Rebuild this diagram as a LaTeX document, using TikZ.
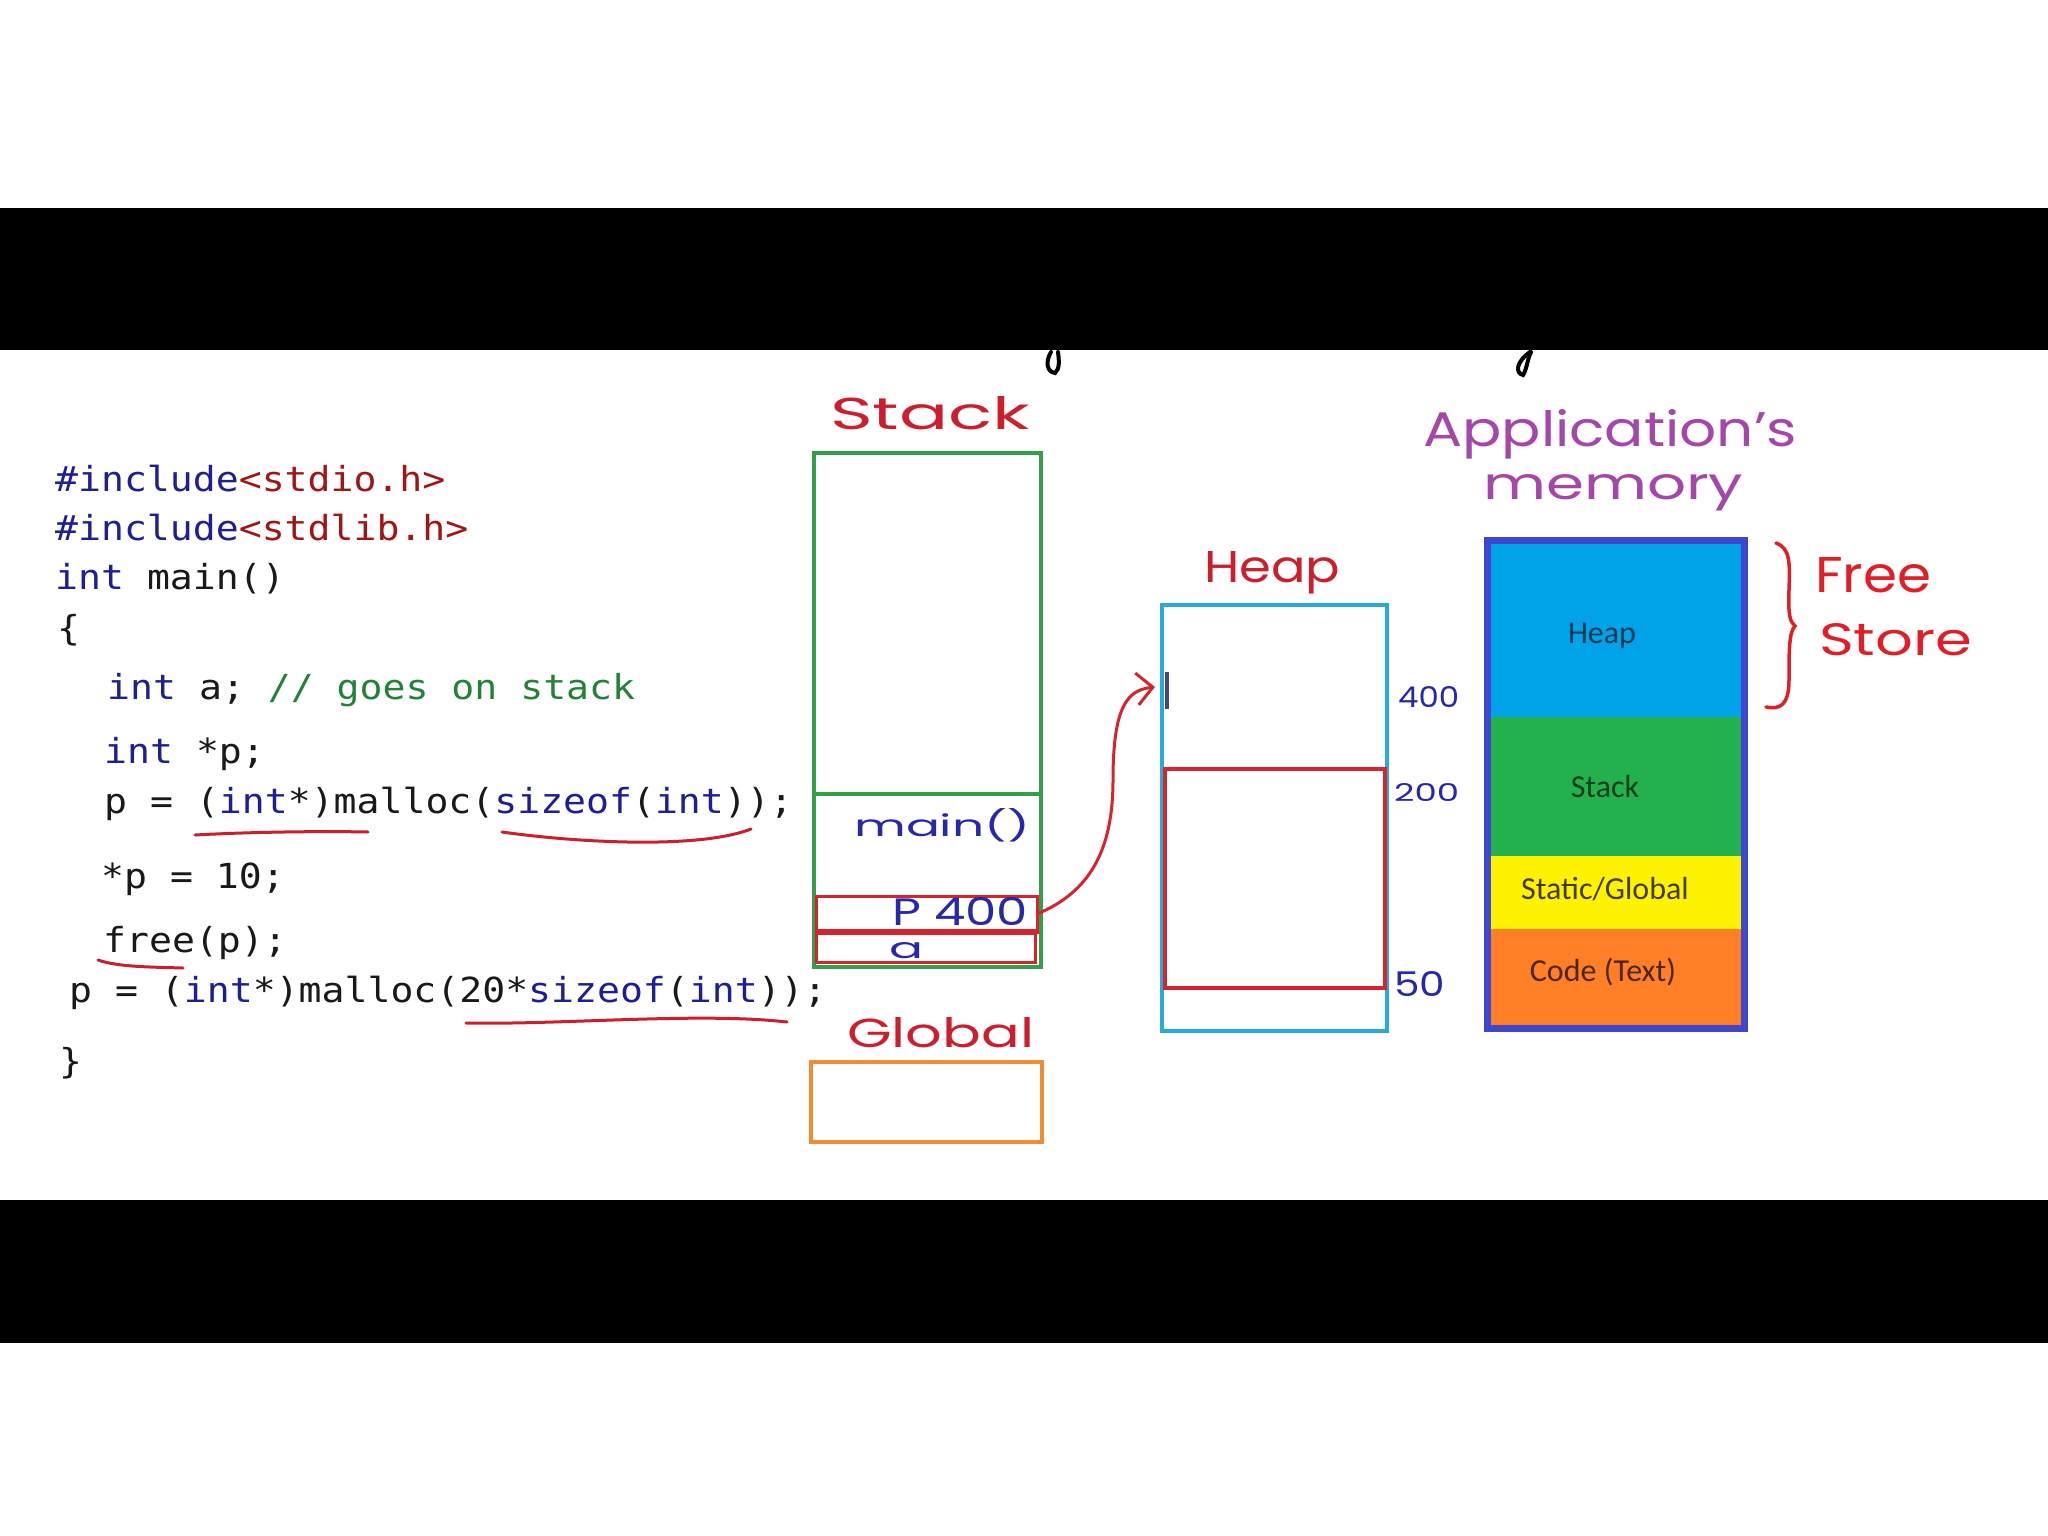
\documentclass[tikz,border=0pt]{standalone}
\usepackage{fontspec}
\usepackage{graphicx}
\usetikzlibrary{arrows.meta}
\newfontfamily\codefont[FakeStretch=1.105]{DejaVu Sans Mono}
\newfontfamily\handfont{Poppins}
\newfontfamily\memfont{Carlito}
\definecolor{codeblue}{RGB}{30,30,150}
\definecolor{codered}{RGB}{163,21,21}
\definecolor{codegreen}{RGB}{35,130,55}
\definecolor{codeblack}{RGB}{25,25,25}
\definecolor{stackgreen}{RGB}{50,160,75}
\definecolor{boxred}{RGB}{215,35,45}
\definecolor{heapcyan}{RGB}{40,170,220}
\definecolor{globorange}{RGB}{240,140,50}
\definecolor{memborder}{RGB}{63,72,204}
\definecolor{memheap}{RGB}{0,162,232}
\definecolor{memstack}{RGB}{34,177,76}
\definecolor{memyellow}{RGB}{255,242,0}
\definecolor{memorange}{RGB}{255,127,39}
\definecolor{hred}{RGB}{205,30,45}
\definecolor{hbrightred}{RGB}{225,30,40}
\definecolor{hblue}{RGB}{40,40,170}
\definecolor{hpurple}{RGB}{165,70,170}
\definecolor{tickblue}{RGB}{70,70,130}
\newcommand{\ckw}[1]{\textcolor{codeblue}{#1}}
\newcommand{\cstr}[1]{\textcolor{codered}{#1}}
\newcommand{\ccmt}[1]{\textcolor{codegreen}{#1}}
\newcommand{\handtxt}[3]{\resizebox{#1pt}{#2pt}{\handfont #3}}
\begin{document}
\begin{tikzpicture}[x=1pt,y=-1pt,
  code/.style={anchor=base west, inner sep=0pt, text=codeblack,
    font={\codefont\fontsize{34.5}{40}\selectfont}},
  hand/.style={anchor=base west, inner sep=0pt},
  box/.style={anchor=north west, inner sep=0pt, outer sep=0pt},
  memlbl/.style={inner sep=0pt, font={\memfont\fontsize{32}{36}\selectfont}},
  uline/.style={draw=hred, line width=3pt, line cap=round}]
\useasboundingbox (0,0) rectangle (2048,1536);
\fill[white] (0,0) rectangle (2048,1536);
\fill[black] (0,208) rectangle (2048,350);
\fill[black] (0,1200) rectangle (2048,1343);
% bits of handwriting below the top band
\draw[black, line width=4pt, line cap=round] (1051,352) .. controls (1045,362) and (1047,372) .. (1055,373) .. controls (1060,369) and (1059,360) .. (1058,352);
\draw[black, line width=4pt, line cap=round] (1530,352) .. controls (1516,362) and (1515,373) .. (1523,375) .. controls (1527,369) and (1527,360) .. (1531,352);

% code
\node[code] (l1) at (55,491) {\ckw{\#include}\cstr{<stdio.h>}};
\node[code] (l2) at (55,540) {\ckw{\#include}\cstr{<stdlib.h>}};
\node[code] (l3) at (55,589) {\ckw{int} main()};
\node[code] (l4) at (57,640) {\{};
\node[code] (l5) at (107,699) {\ckw{int} a; \ccmt{// goes on stack}};
\node[code] (l6) at (104,763) {\ckw{int} *p;};
\node[code] (l7) at (104,813) {p = (\ckw{int}*)malloc(\ckw{sizeof}(\ckw{int}));};
\node[code] (l8) at (101,888) {*p = 10;};
\node[code] (l9) at (103,952) {free(p);};
\node[code] (l10) at (69,1002) {p = (\ckw{int}*)malloc(20*\ckw{sizeof}(\ckw{int}));};
\node[code] (l11) at (59,1073) {\}};
% underlines
\draw[uline] (195,835) .. controls (250,832) and (320,831) .. (368,832);
\draw[uline] (502,832) .. controls (580,843) and (700,849) .. (751,829);
\draw[uline] (98,960) .. controls (118,967) and (150,967) .. (183,968);
\draw[uline] (466,1023) .. controls (560,1025) and (700,1012) .. (787,1022);

% stack
\node[hand, text=hred] (stacktitle) at (830,429) {\handtxt{200}{33}{Stack}};
\node[box, draw=stackgreen, line width=3.5pt, minimum width=227pt, minimum height=514pt] (stackbox) at (814,453) {};
\draw[stackgreen, line width=3.5pt] (814,794) -- (1041,794);
\node[hand, text=hblue] (mainlbl) at (854,836) {\handtxt{176}{28}{main()}};
\node[box, draw=boxred, line width=3pt, minimum width=221pt, minimum height=36pt] (pbox) at (816,896) {};
\node[box, draw=boxred, line width=3pt, minimum width=219pt, minimum height=30pt] (abox) at (816,932) {};
\draw[boxred, line width=6pt] (816,932) -- (1037,932);
\node[hand, text=hblue] (plbl) at (892,925) {\handtxt{136}{28}{P 400}};
\node[hand, text=hblue] (albl) at (889,958) {\handtxt{34}{16}{a}};

% global
\node[hand, text=hred] (globaltitle) at (847,1047) {\handtxt{187}{30}{Global}};
\node[box, draw=globorange, line width=3.5pt, minimum width=231pt, minimum height=80pt] (globalbox) at (811,1062) {};

% heap
\node[hand, text=hred] (heaptitle) at (1204,582) {\handtxt{136}{31}{Heap}};
\node[box, draw=heapcyan, line width=3.5pt, minimum width=225pt, minimum height=426pt] (heapbox) at (1162,605) {};
\node[box, draw=boxred, line width=3.5pt, minimum width=220pt, minimum height=219pt] (heapblock) at (1165,769) {};
\draw[tickblue, line width=4pt] (1167,672) -- (1167,709);
\node[hand, text=hblue] (n400) at (1398,707) {\handtxt{61}{21}{400}};
\node[hand, text=hblue] (n200) at (1394,801) {\handtxt{65}{18}{200}};
\node[hand, text=hblue] (n50) at (1394,996) {\handtxt{51}{25}{50}};

% pointer arrow
\coordinate (heapptr) at (1155,687);
\draw[boxred, line width=3pt, -{Straight Barb[length=16pt,width=32pt,line width=3pt]}]
  (pbox.east) .. controls (1090,892) and (1113,850) .. (1113,780)
  .. controls (1113,705) and (1128,690) .. (heapptr);

% application's memory
\node[hand, text=hpurple] (apptitle) at (1423,446) {\handtxt{374}{37}{Application’s}};
\node[hand, text=hpurple] (memtitle) at (1483,499) {\handtxt{260}{25}{memory}};
\fill[memheap] (1487,540) rectangle (1745,717);
\fill[memstack] (1487,717) rectangle (1745,856);
\fill[memyellow] (1487,856) rectangle (1745,929);
\fill[memorange] (1487,929) rectangle (1745,1029);
\node[box, draw=memborder, line width=7pt, minimum width=257pt, minimum height=488pt] (membox) at (1487.5,540.5) {};
\node[memlbl, text=memheap!35!black] (mheap) at (1602,636) {Heap};
\node[memlbl, text=memstack!35!black] (mstack) at (1605,787) {Stack};
\node[memlbl, text=memyellow!25!black] (mstatic) at (1605,889) {Static/Global};
\node[memlbl, text=memorange!30!black] (mcode) at (1603,972) {Code (Text)};

% free store brace
\draw[hbrightred, line width=3.5pt, line cap=round] (1776,543) .. controls (1790,548) and (1790,562) .. (1789,590)
  .. controls (1788,615) and (1790,622) .. (1795,626)
  .. controls (1789,632) and (1789,650) .. (1789,680)
  .. controls (1789,705) and (1780,710) .. (1766,707);
\node[hand, text=hbrightred] (freelbl) at (1815,592) {\handtxt{116}{35}{Free}};
\node[hand, text=hbrightred] (storelbl) at (1819,655) {\handtxt{153}{32}{Store}};
\end{tikzpicture}
\end{document}
